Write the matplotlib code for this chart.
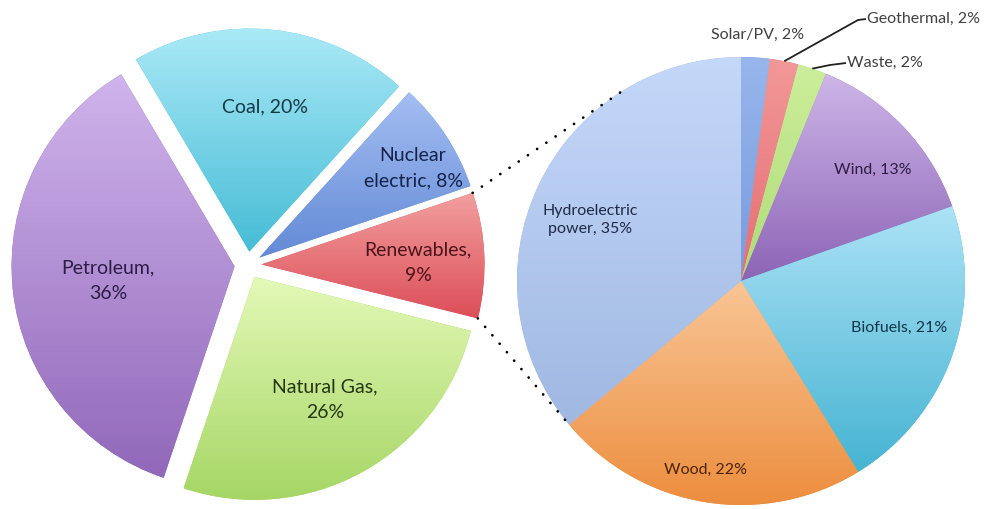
import numpy as np
import matplotlib
matplotlib.use("Agg")
import matplotlib.pyplot as plt

plt.rcParams['font.family'] = ['Lato', 'DejaVu Sans']

# ---------------- data ----------------
left_labels = ["Renewables", "Nuclear electric", "Coal", "Petroleum", "Natural Gas"]
left_values = [9, 8, 20, 36, 26]

right_labels = ["Solar/PV", "Geothermal", "Waste", "Wind", "Biofuels", "Wood", "Hydroelectric power"]
right_values = [2, 2, 2, 13, 21, 22, 35]

# ---------------- style ----------------
W, H = 985, 509
left_grad = [((242, 160, 160), (220, 78, 88)),     # Renewables
             ((165, 190, 242), (98, 138, 214)),    # Nuclear
             ((172, 234, 247), (70, 188, 214)),    # Coal
             ((208, 180, 236), (145, 104, 186)),   # Petroleum
             ((228, 249, 184), (165, 214, 100))]   # Natural Gas
left_text = ['#4a1418', '#15234a', '#143a46', '#2e1c46', '#233612']

right_grad = [((152, 182, 236), (120, 155, 222)),  # Solar
              ((242, 152, 152), (230, 110, 115)),  # Geothermal
              ((204, 238, 155), (175, 220, 120)),  # Waste
              ((206, 182, 232), (140, 100, 182)),  # Wind
              ((172, 226, 246), (70, 180, 210)),   # Biofuels
              ((249, 198, 150), (236, 140, 60)),   # Wood
              ((196, 216, 249), (160, 184, 226))]  # Hydro
right_text = ['#404040', '#404040', '#404040', '#2e1c46', '#10364a', '#4a2408', '#1e2a48']

def img(x, y):
    return x, H - y

lc = img(248, 265)
lr = 223
rc = img(741, 281)
rr = 224
expl = 13.5

fig = plt.figure(figsize=(W / 100, H / 100), dpi=100)
ax = fig.add_axes([0, 0, 1, 1])

def grad_fill(wedges, grads):
    for w, (top, bot) in zip(wedges, grads):
        v = w.get_path().vertices
        x0, x1 = v[:, 0].min(), v[:, 0].max()
        y0, y1 = v[:, 1].min(), v[:, 1].max()
        t = np.linspace(0, 1, 256)[:, None, None]
        top = np.array(top) / 255.0
        bot = np.array(bot) / 255.0
        arr = top[None, None, :] * (1 - t) + bot[None, None, :] * t
        arr = np.repeat(arr, 2, axis=1)
        im = ax.imshow(arr, extent=(x0, x1, y0, y1), origin='upper',
                       interpolation='bilinear', zorder=2, aspect='auto')
        im.set_clip_path(w)

tot_l = sum(left_values)
start_l = -14
lw_, _ = ax.pie(left_values, startangle=start_l, counterclock=True,
                explode=[expl] * len(left_values), center=lc, radius=lr,
                colors=[np.array(g[1]) / 255 for g in left_grad],
                wedgeprops=dict(linewidth=0))
grad_fill(lw_, left_grad)

rw_, _ = ax.pie(right_values, startangle=90, counterclock=False,
                center=rc, radius=rr,
                colors=[np.array(g[1]) / 255 for g in right_grad],
                wedgeprops=dict(linewidth=0))
grad_fill(rw_, right_grad)

# ---------------- labels ----------------
lfs = 14
rfs = 11.5
left_pos = [(418, 263), (413, 168), (265, 107), (108, 281), (325, 400)]
left_txt = ["Renewables,\n9%", "Nuclear\nelectric, 8%", "Coal, 20%",
            "Petroleum,\n36%", "Natural Gas,\n26%"]
for (x, y), s, c in zip(left_pos, left_txt, left_text):
    ax.text(*img(x, y), s, ha='center', va='center', fontsize=lfs, color=c,
            linespacing=1.6, zorder=5)

right_pos = {"Solar/PV": (758, 35), "Wind": (873, 170), "Biofuels": (899, 328),
             "Wood": (706, 470), "Hydroelectric power": (590, 220)}
right_txt = {"Solar/PV": "Solar/PV, 2%", "Wind": "Wind, 13%",
             "Biofuels": "Biofuels, 21%", "Wood": "Wood, 22%",
             "Hydroelectric power": "Hydroelectric\npower, 35%"}
for lab, c in zip(right_labels, right_text):
    if lab in right_pos:
        ax.text(*img(*right_pos[lab]), right_txt[lab], ha='center', va='center',
                fontsize=rfs, color=c, linespacing=1.45, zorder=5)

# leader-line labels (Geothermal, Waste)
tot_r = sum(right_values)
cum = np.cumsum([0] + right_values)
def mid_angle(i):
    return np.deg2rad(90 - (cum[i] + right_values[i] / 2) / tot_r * 360)

leaders = {1: ((858, 20), (866, 19), "Geothermal, 2%"),
           2: ((830, 65), (846, 63), "Waste, 2%")}
for i, (p1, p2, s) in leaders.items():
    a = mid_angle(i)
    sx, sy = rc[0] + rr * np.cos(a), rc[1] + rr * np.sin(a)
    xs = [sx, img(*p1)[0], img(*p2)[0]]
    ys = [sy, img(*p1)[1], img(*p2)[1]]
    ax.plot(xs, ys, color='#222222', lw=1.3, zorder=6, solid_capstyle='butt')
    ax.text(img(*p2)[0] + 1, img(*p2)[1], s, ha='left', va='center',
            fontsize=rfs, color='#404040', zorder=6)

# ---------------- dotted connectors ----------------
mid_ren = np.deg2rad(start_l + left_values[0] / tot_l * 360 / 2)
ren_c = (lc[0] + expl * np.cos(mid_ren), lc[1] + expl * np.sin(mid_ren))
a_top = np.deg2rad(start_l + left_values[0] / tot_l * 360)
a_bot = np.deg2rad(start_l)
p_top = (ren_c[0] + lr * np.cos(a_top), ren_c[1] + lr * np.sin(a_top))
p_bot = (ren_c[0] + lr * np.cos(a_bot), ren_c[1] + lr * np.sin(a_bot))
q_top_a = np.deg2rad(122)
q_bot_a = np.deg2rad(220)
q_top = (rc[0] + rr * np.cos(q_top_a), rc[1] + rr * np.sin(q_top_a))
q_bot = (rc[0] + rr * np.cos(q_bot_a), rc[1] + rr * np.sin(q_bot_a))
for p, q in ((p_top, q_top), (p_bot, q_bot)):
    ax.plot([p[0], q[0]], [p[1], q[1]], color='black', lw=2.0,
            linestyle=(0, (0.01, 4.0)), dash_capstyle='round', zorder=7)

ax.set_xlim(0, W)
ax.set_ylim(0, H)
ax.set_aspect('equal')
ax.axis('off')
fig.savefig("out.png", dpi=100, facecolor='white')
